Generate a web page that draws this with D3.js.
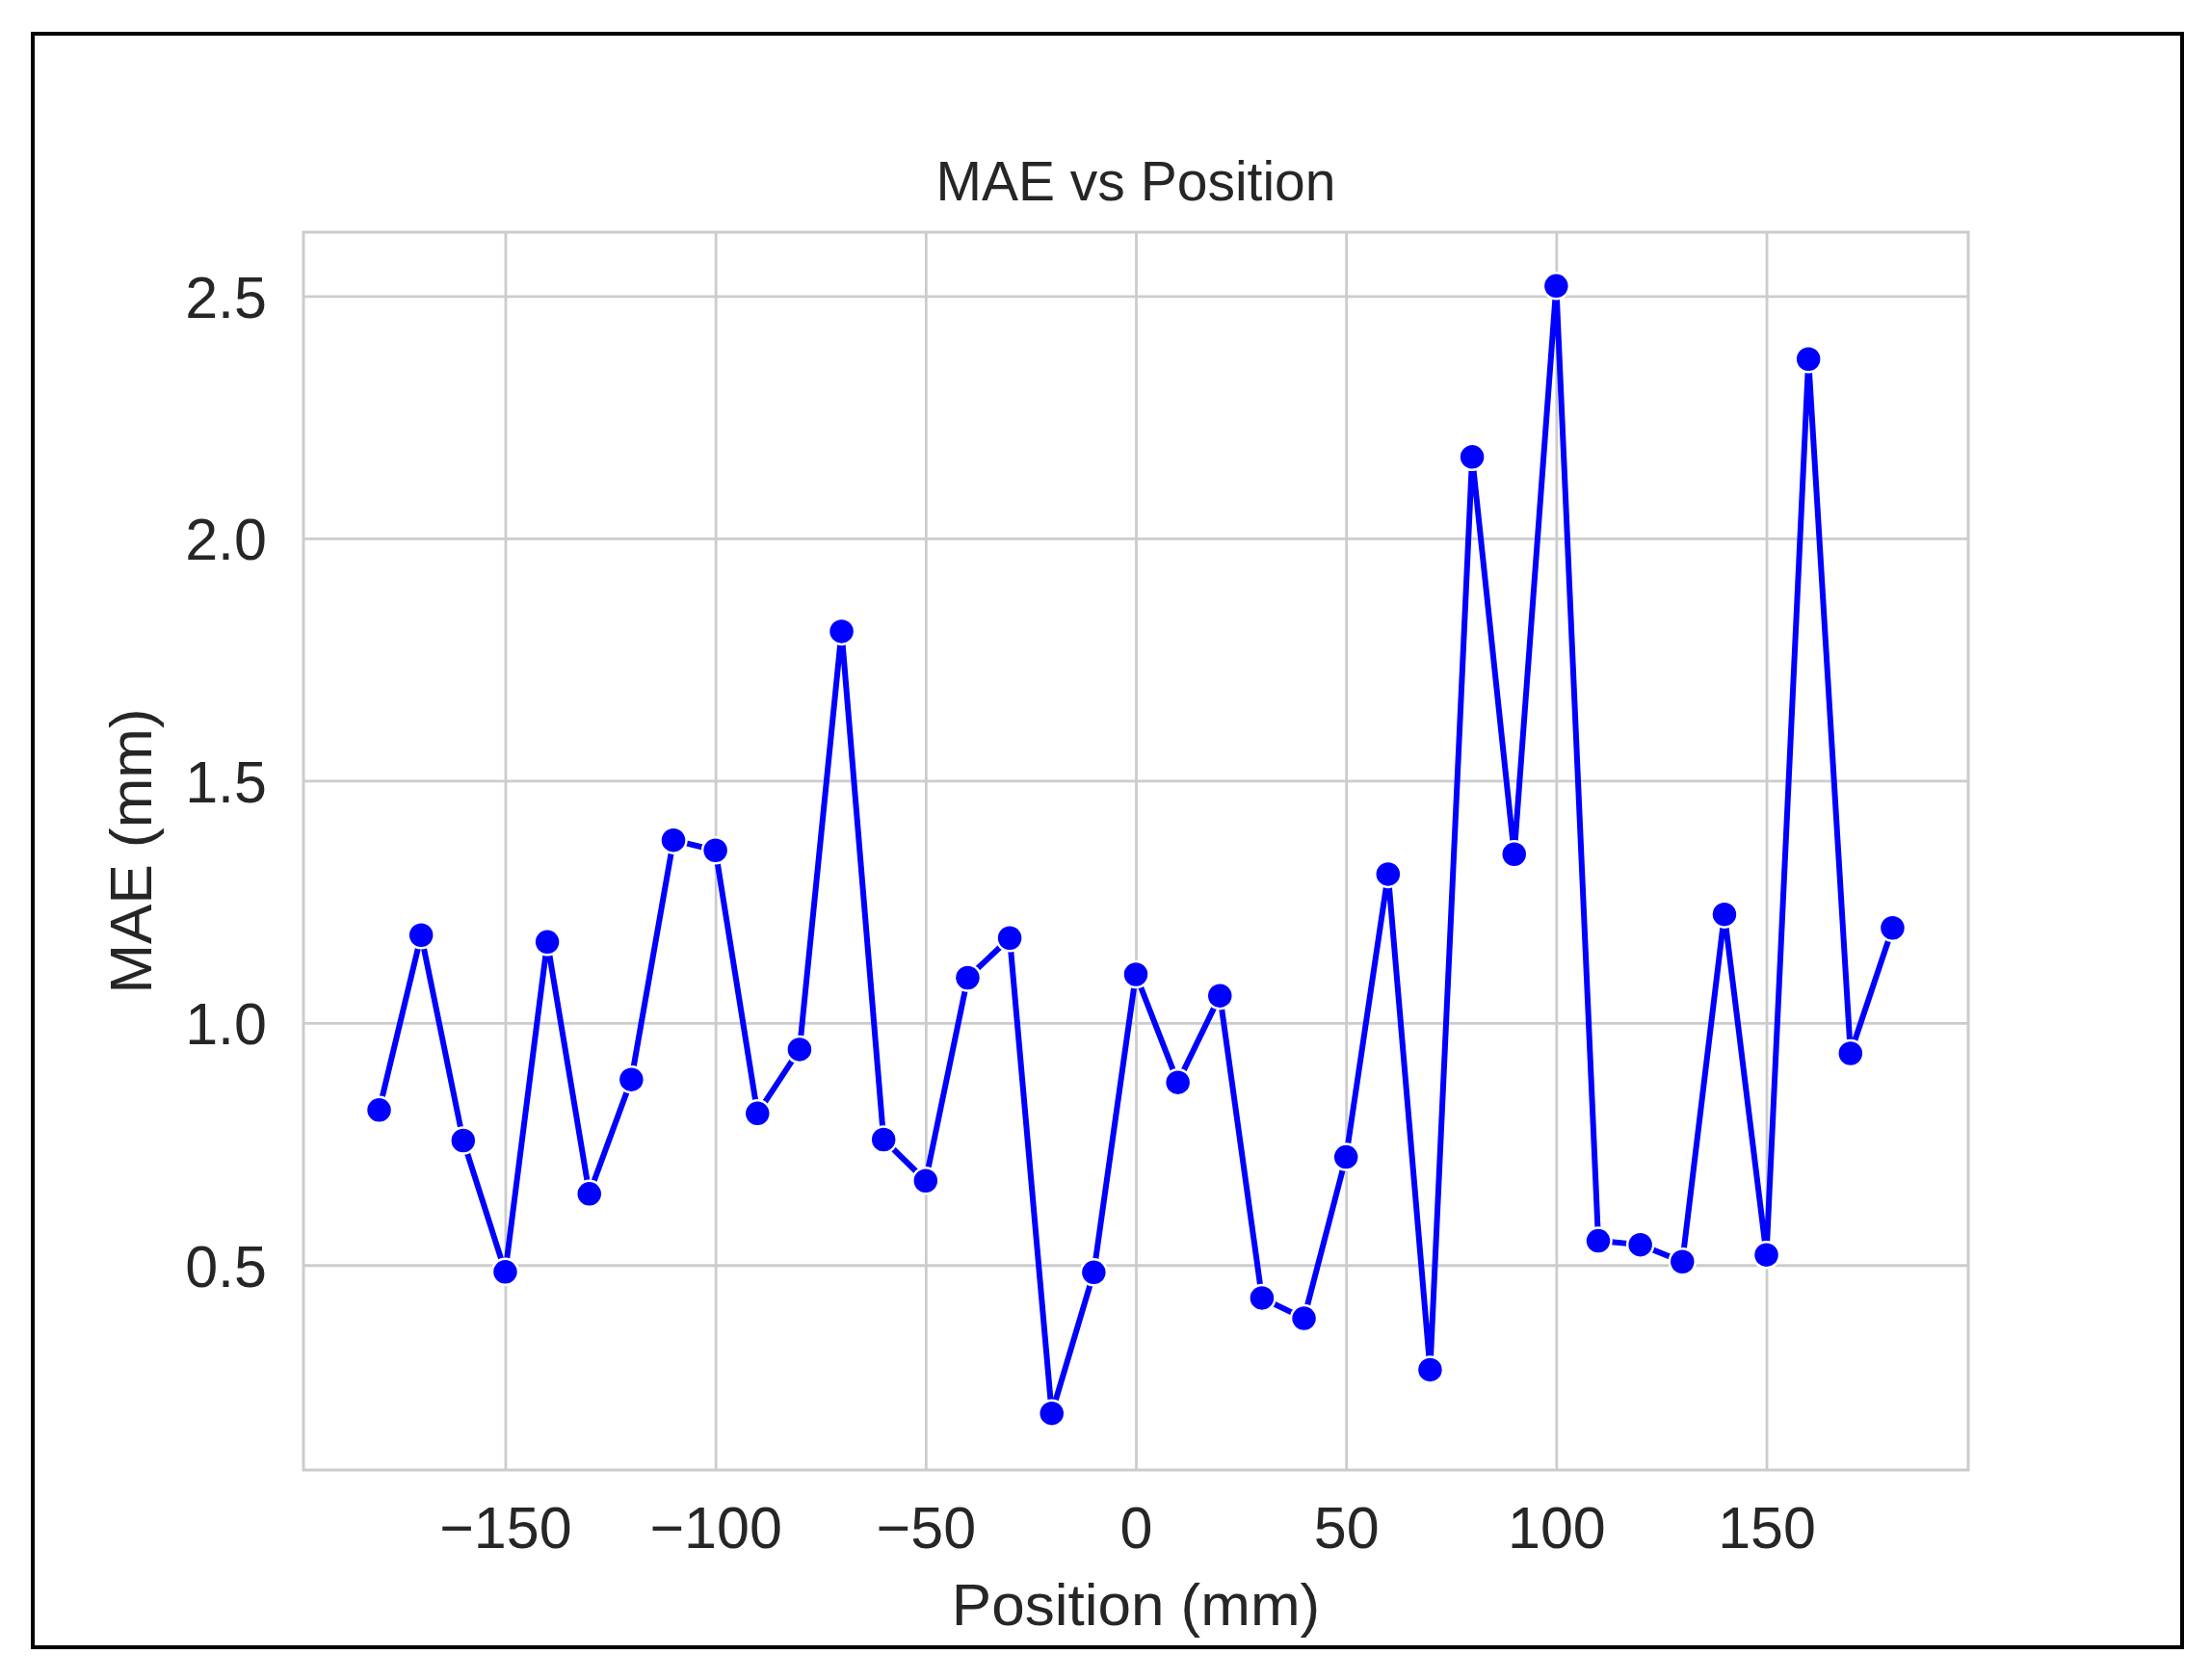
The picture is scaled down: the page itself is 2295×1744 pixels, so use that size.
<!DOCTYPE html>
<html>
<head>
<meta charset="utf-8">
<script src="https://cdn.jsdelivr.net/npm/d3@7"></script>
<style>
  html, body { margin: 0; padding: 0; background: #ffffff; }
  svg { display: block; }
</style>
</head>
<body>
<svg id="chart" width="2295" height="1744"></svg>
<script>
// ---- data ----
const positions = [-180, -170, -160, -150, -140, -130, -120, -110, -100, -90, -80, -70, -60, -50, -40, -30, -20, -10,
  0, 10, 20, 30, 40, 50, 60, 70, 80, 90, 100, 110, 120, 130, 140, 150, 160, 170, 180];
const maeValues = [0.820, 1.181, 0.757, 0.486, 1.167, 0.647, 0.883, 1.377, 1.356, 0.813, 0.945, 1.808, 0.759, 0.674, 1.093, 1.175, 0.194, 0.485,
  1.100, 0.877, 1.056, 0.432, 0.390, 0.723, 1.307, 0.284, 2.168, 1.348, 2.521, 0.550, 0.542, 0.507, 1.224, 0.521, 2.370, 0.937, 1.196];
const xTicks = [-150, -100, -50, 0, 50, 100, 150];
const yTicks = [0.5, 1.0, 1.5, 2.0, 2.5];
const xDomain = [-198, 198];
const yDomain = [0.077, 2.632];
const titleText = "MAE vs Position";
const xLabelText = "Position (mm)";
const yLabelText = "MAE (mm)";

// ---- layout ----
const W = 2295, H = 1744;
const plot = { left: 315, right: 2043, top: 241, bottom: 1526 };
const font = "'Liberation Sans', Arial, Helvetica, sans-serif";
const textColor = "#262626";
const gridColor = "#cccccc";

const svg = d3.select("#chart");
svg.append("rect").attr("width", W).attr("height", H).attr("fill", "#ffffff");

// outer border frame
svg.append("rect")
  .attr("x", 34).attr("y", 35)
  .attr("width", 2265 - 34).attr("height", 1710 - 35)
  .attr("fill", "none").attr("stroke", "#000").attr("stroke-width", 4);

const x = d3.scaleLinear().domain(xDomain).range([plot.left, plot.right]);
const y = d3.scaleLinear().domain(yDomain).range([plot.bottom, plot.top]);

const data = positions.map((p, i) => ({ x: p, y: maeValues[i] }));

// grid via axes
const xGrid = svg.append("g")
  .attr("transform", `translate(0,${plot.bottom})`)
  .call(d3.axisBottom(x).tickValues(xTicks).tickSize(-(plot.bottom - plot.top)).tickFormat(""));
xGrid.select(".domain").remove();
xGrid.selectAll("line").attr("stroke", gridColor).attr("stroke-width", 2.8);

const yGrid = svg.append("g")
  .attr("transform", `translate(${plot.left},0)`)
  .call(d3.axisLeft(y).tickValues(yTicks).tickSize(-(plot.right - plot.left)).tickFormat(""));
yGrid.select(".domain").remove();
yGrid.selectAll("line").attr("stroke", gridColor).attr("stroke-width", 2.8);

// spines
svg.append("rect")
  .attr("x", plot.left).attr("y", plot.top)
  .attr("width", plot.right - plot.left).attr("height", plot.bottom - plot.top)
  .attr("fill", "none").attr("stroke", gridColor).attr("stroke-width", 3);

// tick labels via axes
const xAxis = svg.append("g")
  .attr("transform", `translate(0,${plot.bottom})`)
  .call(d3.axisBottom(x).tickValues(xTicks).tickSize(0).tickPadding(0)
    .tickFormat(d => d < 0 ? "\u2212" + Math.abs(d) : String(d)));
xAxis.select(".domain").remove();
xAxis.selectAll("text")
  .attr("y", 81).attr("dy", null)
  .attr("font-family", font).attr("font-size", 61).attr("fill", textColor);

const yAxis = svg.append("g")
  .attr("transform", `translate(${plot.left},0)`)
  .call(d3.axisLeft(y).tickValues(yTicks).tickSize(0).tickPadding(0)
    .tickFormat(d3.format(".1f")));
yAxis.select(".domain").remove();
yAxis.selectAll("text")
  .attr("x", -38).attr("dy", "0.36em")
  .attr("font-family", font).attr("font-size", 61).attr("fill", textColor);

// line
const line = d3.line().x(d => x(d.x)).y(d => y(d.y));
svg.append("path")
  .datum(data)
  .attr("d", line)
  .attr("fill", "none")
  .attr("stroke", "#0000ff")
  .attr("stroke-width", 6)
  .attr("stroke-linejoin", "round");

// markers
svg.append("g").selectAll("circle")
  .data(data)
  .join("circle")
  .attr("cx", d => x(d.x))
  .attr("cy", d => y(d.y))
  .attr("r", 13.5)
  .attr("fill", "#0000ff")
  .attr("stroke", "#ffffff")
  .attr("stroke-width", 2.5);

// title
svg.append("text")
  .attr("x", (plot.left + plot.right) / 2).attr("y", 208)
  .attr("text-anchor", "middle")
  .attr("font-family", font).attr("font-size", 57).attr("fill", textColor)
  .text(titleText);

// x label
svg.append("text")
  .attr("x", (plot.left + plot.right) / 2).attr("y", 1687)
  .attr("text-anchor", "middle")
  .attr("font-family", font).attr("font-size", 62).attr("fill", textColor)
  .text(xLabelText);

// y label
svg.append("text")
  .attr("transform", `translate(157,${(plot.top + plot.bottom) / 2}) rotate(-90)`)
  .attr("text-anchor", "middle")
  .attr("font-family", font).attr("font-size", 62).attr("fill", textColor)
  .text(yLabelText);
</script>
</body>
</html>
